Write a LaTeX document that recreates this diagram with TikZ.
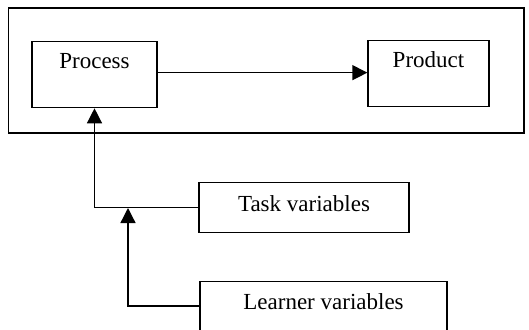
\documentclass[tikz,border=0pt]{standalone}
\usepackage{fontspec}
\setmainfont{Liberation Serif}
\usetikzlibrary{arrows.meta}
\begin{document}
\begin{tikzpicture}[x=1pt,y=-1pt,
  box/.style={draw, line width=1.3pt, rectangle, inner xsep=0pt, inner ysep=0pt,
    font=\fontsize{23}{27}\selectfont, anchor=north},
  arr/.style={line width=1.3pt, -{Triangle[length=15pt,width=15pt]}},
  link/.style={line width=1.3pt}]
\useasboundingbox (0,0) rectangle (529,329);
\clip (0,0) rectangle (529,329);
\node[draw, line width=1.5pt, minimum width=515.5pt, minimum height=124.5pt, inner sep=0pt, anchor=north west] (frame) at (7.5,7.5) {};
\node[box, minimum width=125pt, text height=27pt, text depth=39pt] (process) at (94.5,41) {Process};
\node[box, minimum width=121pt, text height=27pt, text depth=39pt] (product) at (428.5,40) {Product};
\node[box, minimum width=210pt, text height=29pt, text depth=21pt] (task) at (304,182) {Task variables};
\node[box, minimum width=247pt, text height=28pt, text depth=40pt] (learner) at (323.5,281) {Learner variables};
\draw[arr] ([yshift=2pt]process.east) -- ([yshift=2pt]process.east -| product.west);
\draw[arr] (task.west) -| (process.south);
\coordinate (join) at (128,208);
\coordinate (lstart) at ([yshift=-25pt]learner.north west);
\draw[arr] (lstart) -| (join);
\end{tikzpicture}
\end{document}
